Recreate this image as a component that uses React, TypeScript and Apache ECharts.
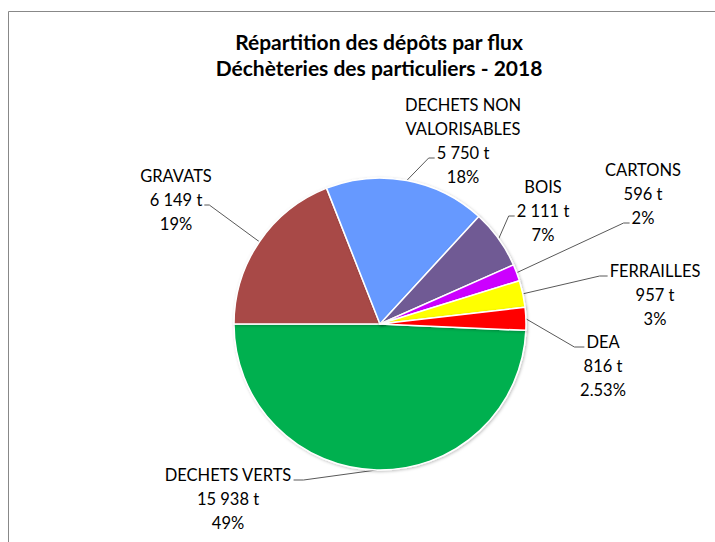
import React, { useEffect, useRef } from "react";
import * as echarts from "echarts";

// ---- data ----
const categories = [
  "DECHETS VERTS",
  "GRAVATS",
  "DECHETS NON\nVALORISABLES",
  "BOIS",
  "CARTONS",
  "FERRAILLES",
  "DEA",
];
// tonnes (DEA slightly above 816 t: the chart shows 816 t and 2.53%)
const tonnages = [15938, 6149, 5750, 2111, 596, 957, 816.4];
const percentDecimals = [0, 0, 0, 0, 0, 0, 2];
const sliceColors = ["#00B050", "#A84A46", "#6699FF", "#6F5A94", "#CC00FF", "#FFFF00", "#FF0000"];
const titleLines = ["Répartition des dépôts par flux", "Déchèteries des particuliers - 2018"];

// ---- layout / style ----
const FONT = "Lato";
const LABEL_FONT = 16.5;
const LINE_H = 24;
const CENTER: [number, number] = [380, 324];
const RADIUS = 146;
const START_ANGLE = 357.5;

type Placement = { x: number; y: number; side: "left" | "right"; line: number; elbow: number };
const labelPlacement: Placement[] = [
  { x: 228, y: 499, side: "right", line: 0, elbow: 10 },
  { x: 176, y: 200, side: "right", line: 1, elbow: 5 },
  { x: 463, y: 141, side: "left", line: 2, elbow: 6 },
  { x: 543, y: 211, side: "left", line: 1, elbow: 6 },
  { x: 643, y: 194, side: "left", line: 2, elbow: 6 },
  { x: 655, y: 295, side: "left", line: 0, elbow: 8 },
  { x: 603, y: 366, side: "left", line: 0, elbow: 10 },
];

const total = tonnages.reduce((a, b) => a + b, 0);
const fmtThousands = (v: number) => String(Math.round(v)).replace(/\B(?=(\d{3})+(?!\d))/g, " ");
const labelLines = (i: number): string[] => [
  ...categories[i].split("\n"),
  `${fmtThousands(tonnages[i])} t`,
  `${((tonnages[i] / total) * 100).toFixed(percentDecimals[i])}%`,
];

let measureCtx: CanvasRenderingContext2D | null = null;
const measure = (s: string) => {
  if (!measureCtx) measureCtx = document.createElement("canvas").getContext("2d");
  if (!measureCtx) return s.length * LABEL_FONT * 0.55;
  measureCtx.font = `${LABEL_FONT}px ${FONT}`;
  return measureCtx.measureText(s).width;
};

const pieEdge = (i: number): number[] => {
  let cum = 0;
  for (let k = 0; k < i; k++) cum += tonnages[k];
  const ang = ((START_ANGLE - ((cum + tonnages[i] / 2) / total) * 360) * Math.PI) / 180;
  return [CENTER[0] + RADIUS * Math.cos(ang), CENTER[1] - RADIUS * Math.sin(ang)];
};

export default function App() {
  const ref = useRef<HTMLDivElement>(null);
  useEffect(() => {
    if (!ref.current) return;
    const chart = echarts.init(ref.current, null, { renderer: "svg" });
    chart.setOption({
      animation: false,
      backgroundColor: "#ffffff",
      title: {
        text: titleLines.join("\n"),
        left: 374,
        top: 23,
        textAlign: "center",
        textStyle: { fontFamily: FONT, fontSize: 21, fontWeight: "bold", lineHeight: 26, color: "#000" },
      },
      graphic: [
        {
          type: "rect",
          z: -1,
          shape: { x: 8.5, y: 11.5, width: 900, height: 900 },
          style: { fill: "none", stroke: "#888888", lineWidth: 1 },
        },
      ],
      series: [
        {
          type: "pie",
          center: CENTER,
          radius: RADIUS,
          startAngle: START_ANGLE,
          clockwise: true,
          avoidLabelOverlap: false,
          emphasis: { disabled: true },
          itemStyle: {
            borderColor: "#ffffff",
            borderWidth: 1.5,
            shadowBlur: 3,
            shadowOffsetX: 1,
            shadowOffsetY: 1,
            shadowColor: "rgba(0,0,0,0.25)",
          },
          label: {
            show: true,
            position: "outside",
            fontFamily: FONT,
            fontSize: LABEL_FONT,
            lineHeight: LINE_H,
            color: "#000",
            align: "center",
            formatter: (p: any) => labelLines(p.dataIndex).join("\n"),
          },
          labelLine: {
            show: true,
            length: 10,
            length2: 10,
            lineStyle: { color: "#595959", width: 1 },
          },
          labelLayout: (params: any) => {
            const i = params.dataIndex;
            const p = labelPlacement[i];
            const lines = labelLines(i);
            const top = p.y - (lines.length * LINE_H) / 2;
            const ly = top + p.line * LINE_H + LINE_H / 2 + 5;
            const w = measure(lines[p.line]);
            const ax = p.side === "right" ? p.x + w / 2 + 2 : p.x - w / 2 - 2;
            const ex = p.side === "right" ? ax + p.elbow : ax - p.elbow;
            return {
              x: p.x,
              y: p.y,
              align: "center",
              verticalAlign: "middle",
              labelLinePoints: [pieEdge(i), [ex, ly], [ax, ly]],
            };
          },
          data: categories.map((name, i) => ({
            name,
            value: tonnages[i],
            itemStyle: { color: sliceColors[i] },
          })),
        },
      ],
    });
    return () => chart.dispose();
  }, []);
  return (
    <div
      ref={ref}
      style={{ position: "fixed", left: 0, top: 0, width: 715, height: 542 }}
    />
  );
}
